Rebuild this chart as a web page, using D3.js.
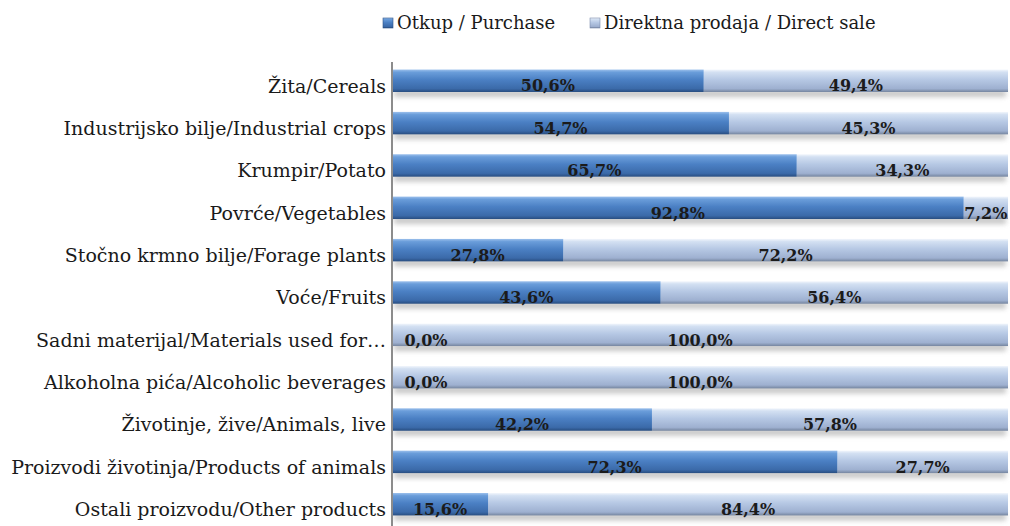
<!DOCTYPE html>
<html>
<head>
<meta charset="utf-8">
<script src="https://cdn.jsdelivr.net/npm/d3@7"></script>
<style>
  body { margin: 0; background: #fff; }
  text { font-family: "DejaVu Serif", "Liberation Serif", serif; }
</style>
</head>
<body>
<script>
// categories, top to bottom
var categories = [
	"Žita/Cereals",
	"Industrijsko bilje/Industrial crops",
	"Krumpir/Potato",
	"Povrće/Vegetables",
	"Stočno krmno bilje/Forage plants",
	"Voće/Fruits",
	"Sadni materijal/Materials used for…",
	"Alkoholna pića/Alcoholic beverages",
	"Životinje, žive/Animals, live",
	"Proizvodi životinja/Products of animals",
	"Ostali proizvodu/Other products"
];
// shares in %
var purchase = [50.6, 54.7, 65.7, 92.8, 27.8, 43.6, 0.0, 0.0, 42.2, 72.3, 15.6];
var directSale = [49.4, 45.3, 34.3, 7.2, 72.2, 56.4, 100.0, 100.0, 57.8, 27.7, 84.4];
var seriesNames = ["Otkup / Purchase", "Direktna prodaja / Direct sale"];

var width = 1010, height = 526;
var margin = { top: 70, right: 2, bottom: 0, left: 392 };

var svg = d3.select("body").append("svg")
	.attr("width", width)
	.attr("height", height);

var defs = svg.append("defs");

function gradient(id, stops) {
	var g = defs.append("linearGradient")
		.attr("id", id)
		.attr("x1", 0).attr("y1", 0).attr("x2", 0).attr("y2", 1);
	stops.forEach(function (s) {
		g.append("stop").attr("offset", s[0]).attr("stop-color", s[1]);
	});
}
gradient("gPurchase", [[0, "#9cc0ec"], [0.12, "#6a9dda"], [0.45, "#4b80c4"], [0.85, "#3b6aa9"], [1, "#284d80"]]);
gradient("gDirect", [[0, "#f2f6fc"], [0.12, "#d3e0f2"], [0.45, "#b6c8e4"], [0.85, "#9eb0d0"], [1, "#75859f"]]);

var shadow = defs.append("filter").attr("id", "shadow")
	.attr("x", "-5%").attr("y", "-50%").attr("width", "110%").attr("height", "250%");
shadow.append("feGaussianBlur").attr("stdDeviation", 2.5);

var x = d3.scaleLinear().domain([0, 100]).range([margin.left, width - margin.right]);
var y = d3.scaleBand().domain(categories).range([margin.top - 14, margin.top - 14 + 43 * categories.length]).paddingInner(0.47).paddingOuter(0.32);

var rows = categories.map(function (c, i) {
	return { cat: c, p: purchase[i], d: directSale[i] };
});

var bh = y.bandwidth();

// drop shadows
svg.append("g").selectAll("rect")
	.data(rows)
	.enter().append("rect")
	.attr("x", x(0) + 2)
	.attr("y", function (d) { return y(d.cat) + bh - 2; })
	.attr("width", x(100) - x(0) - 4)
	.attr("height", 7)
	.attr("fill", "#9a9a9a")
	.attr("opacity", 0.55)
	.attr("filter", "url(#shadow)");

// direct sale segments
svg.append("g").selectAll("rect")
	.data(rows)
	.enter().append("rect")
	.attr("x", function (d) { return x(d.p); })
	.attr("y", function (d) { return y(d.cat); })
	.attr("width", function (d) { return x(d.p + d.d) - x(d.p); })
	.attr("height", bh)
	.attr("fill", "url(#gDirect)");

// purchase segments
svg.append("g").selectAll("rect")
	.data(rows)
	.enter().append("rect")
	.attr("x", x(0))
	.attr("y", function (d) { return y(d.cat); })
	.attr("width", function (d) { return x(d.p) - x(0); })
	.attr("height", bh)
	.attr("fill", "url(#gPurchase)");

// segment labels
function fmt(v) { return v.toFixed(1).replace(".", ",") + "%"; }

var lab = svg.append("g")
	.style("font-weight", "bold")
	.style("font-size", "16px")
	.attr("fill", "#1b1b1b")
	.attr("text-anchor", "middle");

lab.selectAll("text.p")
	.data(rows)
	.enter().append("text")
	.attr("class", "p")
	.attr("x", function (d) { return d.p < 5 ? x(0) + 34 : (x(0) + x(d.p)) / 2; })
	.attr("y", function (d) { return y(d.cat) + bh - 0.5; })
	.text(function (d) { return fmt(d.p); });

lab.selectAll("text.d")
	.data(rows)
	.enter().append("text")
	.attr("class", "d")
	.attr("x", function (d) { return (x(d.p) + x(100)) / 2; })
	.attr("y", function (d) { return y(d.cat) + bh - 0.5; })
	.text(function (d) { return fmt(d.d); });

// category axis
var yAxis = svg.append("g")
	.attr("transform", "translate(" + x(0) + ",0)")
	.call(d3.axisLeft(y).tickSize(0).tickPadding(6));
yAxis.select(".domain").attr("stroke", "#8c8c8c").attr("stroke-width", 2)
	.attr("d", "M0,62V" + height);
yAxis.selectAll("text")
	.style("font-family", "'DejaVu Serif', serif")
	.style("font-size", "19px")
	.attr("fill", "#1a1a1a")
	.attr("dy", "0.62em");

// legend
var legend = svg.append("g").style("font-size", "18px");
var legendX = [383, 590];
seriesNames.forEach(function (name, i) {
	var g = legend.append("g").attr("transform", "translate(" + legendX[i] + ",18)");
	g.append("rect").attr("width", 10).attr("height", 10)
		.attr("fill", i === 0 ? "url(#gPurchase)" : "url(#gDirect)")
		.attr("stroke", i === 0 ? "#2c5388" : "#7b8bab").attr("stroke-width", 0.6);
	g.append("text").attr("x", 14).attr("y", 11).attr("fill", "#1a1a1a").text(name);
});
</script>
</body>
</html>
